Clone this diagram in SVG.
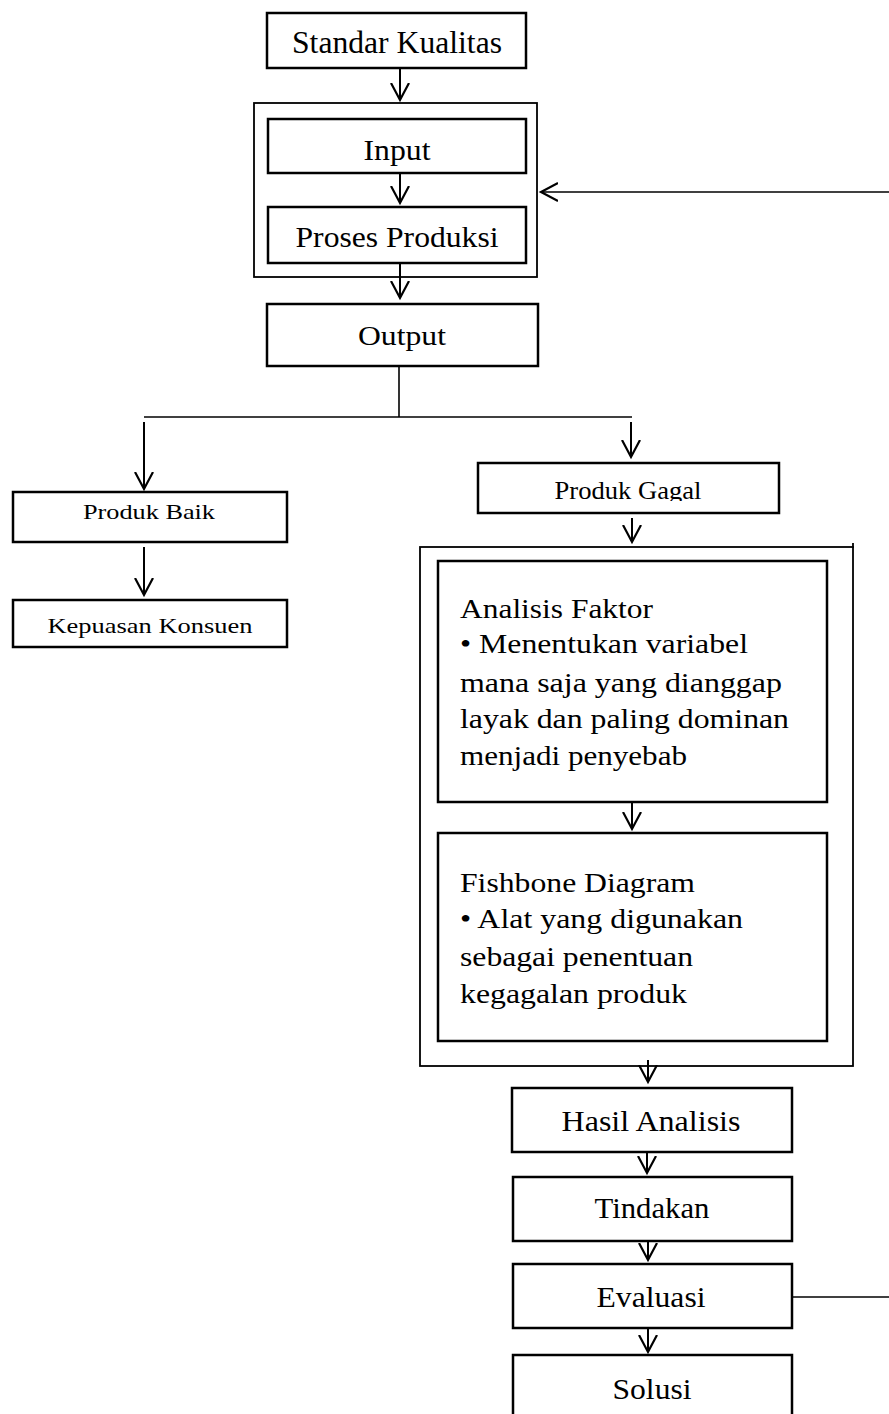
<svg xmlns="http://www.w3.org/2000/svg" width="889" height="1414" viewBox="0 0 889 1414">
<style>
.box{fill:#fff;stroke:#000;stroke-width:2.5}
.outer{fill:none;stroke:#000;stroke-width:1.8}
.ln{fill:none;stroke:#000;stroke-width:2}
.thin{fill:none;stroke:#000;stroke-width:1.6}
text{font-family:'Liberation Serif','Times New Roman',Tinos,Times,serif;fill:#000}
.c{text-anchor:middle}
.l{text-anchor:start}
</style>
<defs>
<marker id="v" viewBox="0 0 20 20" refX="17" refY="10" markerWidth="20" markerHeight="20" markerUnits="userSpaceOnUse" orient="auto">
<path d="M0,1 L17,10 L0,19" fill="none" stroke="#000" stroke-width="2.2"/>
</marker>
<clipPath id="gclip"><rect x="478" y="463" width="301" height="38"/></clipPath>
</defs>
<rect width="889" height="1414" fill="#fff"/>

<g id="containers">
<rect class="outer" x="254" y="103" width="283" height="174"/>
<rect class="outer" x="420" y="547" width="433" height="519"/>
<line class="outer" x1="853" y1="543" x2="853" y2="548"/>
</g>

<g id="connectors">
<line class="ln" x1="400" y1="68" x2="400" y2="100" marker-end="url(#v)"/>
<line class="ln" x1="400" y1="173" x2="400" y2="203" marker-end="url(#v)"/>
<line class="ln" x1="400" y1="263" x2="400" y2="298" marker-end="url(#v)"/>
<line class="thin" x1="399" y1="366" x2="399" y2="417"/>
<line class="thin" x1="144" y1="417" x2="632" y2="417"/>
<line class="ln" x1="144" y1="422" x2="144" y2="489" marker-end="url(#v)"/>
<line class="ln" x1="631" y1="422" x2="631" y2="457" marker-end="url(#v)"/>
<line class="ln" x1="144" y1="547" x2="144" y2="595" marker-end="url(#v)"/>
<line class="ln" x1="632" y1="518" x2="632" y2="542" marker-end="url(#v)"/>
<line class="ln" x1="632" y1="802" x2="632" y2="829" marker-end="url(#v)"/>
<line class="ln" x1="648" y1="1060" x2="648" y2="1082" marker-end="url(#v)"/>
<line class="ln" x1="647" y1="1152" x2="647" y2="1173" marker-end="url(#v)"/>
<line class="ln" x1="648" y1="1241" x2="648" y2="1260" marker-end="url(#v)"/>
<line class="ln" x1="648" y1="1328" x2="648" y2="1352" marker-end="url(#v)"/>
<line class="thin" x1="792" y1="1297" x2="889" y2="1297"/>
<line class="thin" x1="889" y1="192" x2="541" y2="192" marker-end="url(#v)"/>
</g>

<g id="standar">
<rect class="box" x="267" y="13" width="259" height="55"/>
<text class="c" x="397" y="53" font-size="32" textLength="210" lengthAdjust="spacingAndGlyphs">Standar Kualitas</text>
</g>
<g id="input">
<rect class="box" x="268" y="119" width="258" height="54"/>
<text class="c" x="397" y="160" font-size="30" textLength="67" lengthAdjust="spacingAndGlyphs">Input</text>
</g>
<g id="proses">
<rect class="box" x="268" y="207" width="258" height="56"/>
<text class="c" x="397" y="247" font-size="29" textLength="203" lengthAdjust="spacingAndGlyphs">Proses Produksi</text>
</g>
<g id="output">
<rect class="box" x="267" y="304" width="271" height="62"/>
<text class="c" x="402" y="345" font-size="27" textLength="88" lengthAdjust="spacingAndGlyphs">Output</text>
</g>
<g id="produk-baik">
<rect class="box" x="13" y="492" width="274" height="50"/>
<text class="c" x="149" y="519" font-size="22" textLength="132" lengthAdjust="spacingAndGlyphs">Produk Baik</text>
</g>
<g id="kepuasan">
<rect class="box" x="13" y="600" width="274" height="47"/>
<text class="c" x="150" y="633" font-size="22" textLength="205" lengthAdjust="spacingAndGlyphs">Kepuasan Konsuen</text>
</g>
<g id="produk-gagal">
<rect class="box" x="478" y="463" width="301" height="50"/>
<text class="c" x="628" y="499" font-size="26" textLength="147" lengthAdjust="spacingAndGlyphs" clip-path="url(#gclip)">Produk Gagal</text>
</g>
<g id="analisis-faktor">
<rect class="box" x="438" y="561" width="389" height="241"/>
<text class="l" font-size="27">
<tspan x="460" y="618" textLength="193" lengthAdjust="spacingAndGlyphs">Analisis Faktor</tspan>
<tspan x="460" y="653" textLength="288" lengthAdjust="spacingAndGlyphs">• Menentukan variabel</tspan>
<tspan x="460" y="692" textLength="322" lengthAdjust="spacingAndGlyphs">mana saja yang dianggap</tspan>
<tspan x="460" y="728" textLength="329" lengthAdjust="spacingAndGlyphs">layak dan paling dominan</tspan>
<tspan x="460" y="765" textLength="227" lengthAdjust="spacingAndGlyphs">menjadi penyebab</tspan>
</text>
</g>
<g id="fishbone">
<rect class="box" x="438" y="833" width="389" height="208"/>
<text class="l" font-size="27">
<tspan x="460" y="892" textLength="235" lengthAdjust="spacingAndGlyphs">Fishbone Diagram</tspan>
<tspan x="460" y="928" textLength="283" lengthAdjust="spacingAndGlyphs">• Alat yang digunakan</tspan>
<tspan x="460" y="966" textLength="233" lengthAdjust="spacingAndGlyphs">sebagai penentuan</tspan>
<tspan x="460" y="1003" textLength="227" lengthAdjust="spacingAndGlyphs">kegagalan produk</tspan>
</text>
</g>
<g id="hasil-analisis">
<rect class="box" x="512" y="1088" width="280" height="64"/>
<text class="c" x="651" y="1131" font-size="29" textLength="179" lengthAdjust="spacingAndGlyphs">Hasil Analisis</text>
</g>
<g id="tindakan">
<rect class="box" x="513" y="1177" width="279" height="64"/>
<text class="c" x="652" y="1218" font-size="30" textLength="115" lengthAdjust="spacingAndGlyphs">Tindakan</text>
</g>
<g id="evaluasi">
<rect class="box" x="513" y="1264" width="279" height="64"/>
<text class="c" x="651" y="1307" font-size="30" textLength="109" lengthAdjust="spacingAndGlyphs">Evaluasi</text>
</g>
<g id="solusi">
<rect class="box" x="513" y="1355" width="279" height="70"/>
<text class="c" x="652" y="1399" font-size="30" textLength="79" lengthAdjust="spacingAndGlyphs">Solusi</text>
</g>
</svg>
